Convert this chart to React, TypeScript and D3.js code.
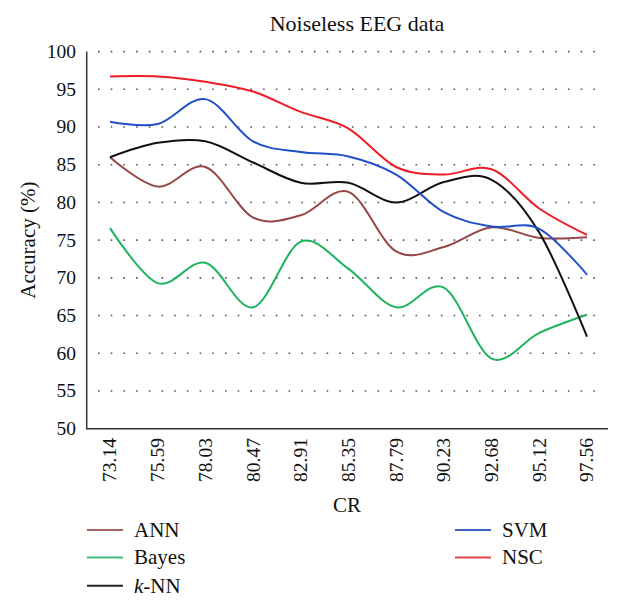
import React from "react";
import * as d3 from "d3";

const categories = ["73.14", "75.59", "78.03", "80.47", "82.91", "85.35", "87.79", "90.23", "92.68", "95.12", "97.56"];
const annValues = [86.0, 82.1, 84.7, 78.0, 78.3, 81.4, 73.5, 74.1, 76.7, 75.3, 75.4];
const bayesValues = [76.6, 69.3, 72.0, 66.1, 74.8, 71.2, 66.1, 68.7, 59.3, 62.7, 65.1];
const knnValues = [86.0, 87.9, 88.1, 85.3, 82.6, 82.6, 80.0, 82.7, 83.0, 76.0, 62.2];
const svmValues = [90.7, 90.4, 93.7, 88.1, 86.7, 86.1, 83.7, 78.7, 76.8, 76.5, 70.4];
const nscValues = [96.7, 96.7, 96.0, 94.7, 92.0, 89.8, 84.7, 83.7, 84.4, 79.2, 75.7];
const yTicks = [50, 55, 60, 65, 70, 75, 80, 85, 90, 95, 100];

const seriesList = [
  { name: "ANN", values: annValues, color: "#954646", legend: "#a86464" },
  { name: "Bayes", values: bayesValues, color: "#1fb35e", legend: "#3dbb76" },
  { name: "k-NN", values: knnValues, color: "#111111", legend: "#222222" },
  { name: "SVM", values: svmValues, color: "#1f4fc9", legend: "#3a62c4" },
  { name: "NSC", values: nscValues, color: "#ee1c25", legend: "#e0454a" },
];

const FONT = "'Liberation Serif', 'Times New Roman', serif";

export default function App() {
  const x = d3.scalePoint<string>().domain(categories).range([110, 587]);
  const y = d3.scaleLinear().domain([50, 100]).range([428.7, 51.6]);
  const axisLeft = 86.7;
  const axisRight = 608;
  const line = d3
    .line<number>()
    .x((_, i) => x(categories[i]) as number)
    .y((v) => y(v))
    .curve(d3.curveCardinal.tension(0));

  const legendLeft = [seriesList[0], seriesList[1], seriesList[2]];
  const legendRight = [seriesList[3], seriesList[4]];
  const legendY = [530, 557.5, 585.7];

  const legendLabel = (name: string) =>
    name === "k-NN" ? (
      <>
        <tspan fontStyle="italic">k</tspan>
        <tspan>-NN</tspan>
      </>
    ) : (
      name
    );

  return (
    <svg
      width={622}
      height={604}
      style={{ position: "absolute", left: 0, top: 0, background: "#fff" }}
      fontFamily={FONT}
    >
      <rect x={0} y={0} width={622} height={604} fill="#fff" />
      <text x={357} y={31} fontSize={22} textAnchor="middle" fill="#111">
        Noiseless EEG data
      </text>

      {yTicks
        .filter((t) => t > 50)
        .map((t) => (
          <line
            key={"g" + t}
            x1={98}
            x2={600}
            y1={y(t)}
            y2={y(t)}
            stroke="#555"
            strokeWidth={1.6}
            strokeDasharray="1.6 11.1"
          />
        ))}

      {yTicks.map((t) => (
        <text
          key={"yt" + t}
          x={76}
          y={y(t)}
          dy="0.33em"
          fontSize={19.5}
          textAnchor="end"
          fill="#111"
        >
          {t}
        </text>
      ))}

      <line x1={axisLeft} x2={axisLeft} y1={y(100)} y2={y(50)} stroke="#333" strokeWidth={1.5} />
      <line x1={axisLeft - 0.75} x2={axisRight} y1={y(50)} y2={y(50)} stroke="#333" strokeWidth={1.5} />

      {categories.map((c) => (
        <text
          key={"xt" + c}
          transform={`translate(${x(c)},438) rotate(-90)`}
          dy="0.33em"
          fontSize={19.5}
          textAnchor="end"
          fill="#111"
        >
          {c}
        </text>
      ))}

      <text x={347} y={512} fontSize={21} textAnchor="middle" fill="#111">
        CR
      </text>
      <text
        transform={`translate(28,${(y(100) + y(50)) / 2}) rotate(-90)`}
        dy="0.33em"
        fontSize={21}
        textAnchor="middle"
        fill="#111"
      >
        Accuracy (%)
      </text>

      {seriesList.map((s) => (
        <path
          key={s.name}
          d={line(s.values) || ""}
          fill="none"
          stroke={s.color}
          strokeWidth={2}
          strokeLinejoin="round"
        />
      ))}

      {legendLeft.map((s, i) => (
        <g key={"ll" + s.name}>
          <line x1={87} x2={123} y1={legendY[i]} y2={legendY[i]} stroke={s.legend} strokeWidth={2} />
          <text x={134} y={legendY[i]} dy="0.33em" fontSize={21} fill="#111">
            {legendLabel(s.name)}
          </text>
        </g>
      ))}
      {legendRight.map((s, i) => (
        <g key={"lr" + s.name}>
          <line x1={455} x2={491} y1={legendY[i]} y2={legendY[i]} stroke={s.legend} strokeWidth={2} />
          <text x={502} y={legendY[i]} dy="0.33em" fontSize={21} fill="#111">
            {legendLabel(s.name)}
          </text>
        </g>
      ))}
    </svg>
  );
}
